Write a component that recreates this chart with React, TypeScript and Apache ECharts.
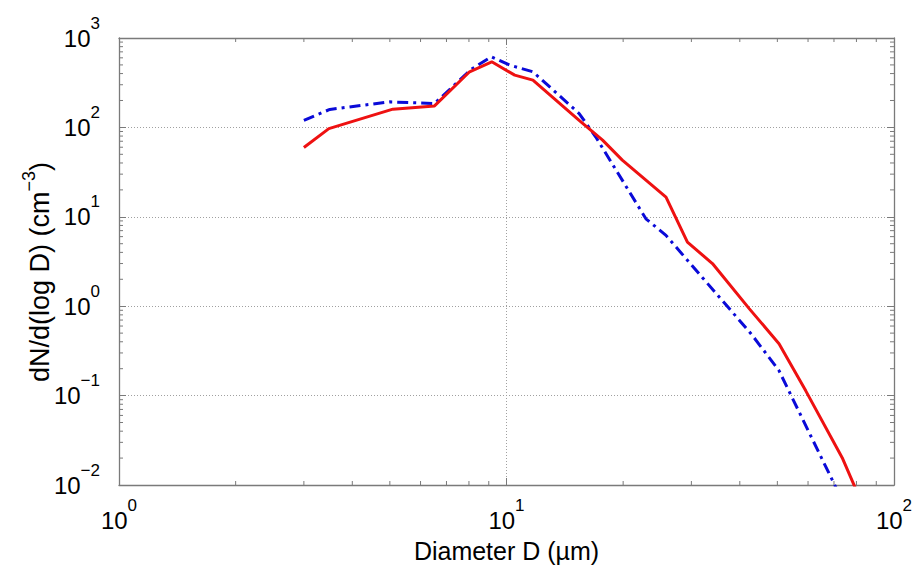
import React, { useEffect, useRef } from "react";
import * as echarts from "echarts";

// Particle number size distribution, two cases
const redDiameter = [3.0, 3.48, 5.09, 6.52, 8.03, 9.16, 10.5, 11.7, 15.4, 17.7, 19.9, 25.8, 29.3, 34.0, 42.3, 50.5, 59.2, 73.5, 82.2];
const redConc = [59.5, 97, 160, 174, 419, 542, 384, 338, 120, 72, 43, 16.6, 5.2, 3.0, 0.94, 0.38, 0.113, 0.0202, 0.0066];

const blueDiameter = [3.0, 3.5, 4.99, 5.97, 6.52, 8.11, 9.14, 10.2, 11.7, 15.4, 17.0, 22.9, 25.8, 32.0, 42.8, 50.5, 72.6];
const blueConc = [120, 159, 193, 188, 185, 446, 617, 497, 419, 143, 78, 9.5, 6.2, 2.1, 0.49, 0.19, 0.0075];

// Axis ranges (decades)
const xMin = 1;
const xMax = 100;
const yMin = 0.01;
const yMax = 1000;

// Minor tick values: 2..9 within each decade
const minorMultipliers = [2, 3, 4, 5, 6, 7, 8, 9];
const xDecades = [1, 10];
const yDecades = [0.01, 0.1, 1, 10, 100];

const xTitle = "Diameter D (\u00b5m)";
const yTitle = "{t|dN/d(log D) (cm}{s|\u22123}{t|)}";

const FONT = '"Liberation Sans", Arial, Helvetica, sans-serif';
const FRAME = "#7a7a7a";

const pairs = (xs: number[], ys: number[]) => xs.map((x, i) => [x, ys[i]]);

const superscript = (v: number) => {
  const e = Math.round(Math.log10(v));
  const s = e < 0 ? "\u2212" + Math.abs(e) : String(e);
  return `{b|10}{e|${s}}`;
};

const labelRich = {
  b: { fontSize: 24, lineHeight: 47, verticalAlign: "middle", color: "#000", fontFamily: FONT },
  e: { fontSize: 17, lineHeight: 17, verticalAlign: "top", color: "#000", fontFamily: FONT },
};

export default function App() {
  const ref = useRef<HTMLDivElement>(null);

  useEffect(() => {
    document.body.style.margin = "0";
    if (!ref.current) return;
    const chart = echarts.init(ref.current, undefined, { renderer: "svg" });

    const xMinor: number[][] = [];
    xDecades.forEach((d) => minorMultipliers.forEach((m) => xMinor.push([d * m, yMin])));
    const yMinor: number[][] = [];
    yDecades.forEach((d) => minorMultipliers.forEach((m) => yMinor.push([xMin, d * m])));

    const tickStyle = { stroke: FRAME, lineWidth: 1 };
    const minorLen = 4;

    const frameAxis = {
      axisLine: { show: true, onZero: false, lineStyle: { color: FRAME, width: 1.3 } },
      axisTick: { show: true, inside: true, length: 7, lineStyle: { color: FRAME } },
    };

    const option = {
      animation: false,
      backgroundColor: "#fff",
      grid: { left: 119, top: 38, right: 27, bottom: 84, containLabel: false },
      graphic: [
        {
          type: "text",
          x: 40,
          y: 272,
          rotation: Math.PI / 2,
          style: {
            text: yTitle,
            align: "center",
            verticalAlign: "middle",
            rich: {
              t: { fontSize: 27, lineHeight: 40, verticalAlign: "middle", fill: "#000", fontFamily: FONT },
              s: { fontSize: 18, lineHeight: 18, verticalAlign: "top", fill: "#000", fontFamily: FONT },
            },
          },
        },
      ],
      xAxis: [
        {
          type: "log",
          logBase: 10,
          min: xMin,
          max: xMax,
          name: xTitle,
          nameLocation: "middle",
          nameGap: 53,
          nameTextStyle: { fontSize: 25, color: "#000", fontFamily: FONT },
          ...frameAxis,
          axisLabel: { margin: 12, fontSize: 24, fontFamily: FONT, formatter: superscript, rich: labelRich },
          splitLine: { show: true, lineStyle: { color: "#a0a0a0", type: [1, 2], width: 1 } },
        },
        {
          type: "log",
          logBase: 10,
          min: xMin,
          max: xMax,
          position: "top",
          ...frameAxis,
          axisLabel: { show: false },
          splitLine: { show: false },
        },
      ],
      yAxis: [
        {
          type: "log",
          logBase: 10,
          min: yMin,
          max: yMax,
          ...frameAxis,
          axisLabel: { margin: 19, fontSize: 24, fontFamily: FONT, formatter: superscript, rich: labelRich },
          splitLine: { show: true, lineStyle: { color: "#a0a0a0", type: [1, 2], width: 1 } },
        },
        {
          type: "log",
          logBase: 10,
          min: yMin,
          max: yMax,
          position: "right",
          ...frameAxis,
          axisLabel: { show: false },
          splitLine: { show: false },
        },
      ],
      series: [
        {
          type: "line",
          data: pairs(blueDiameter, blueConc),
          showSymbol: false,
          lineStyle: { color: "#0a0ad8", width: 3, type: [11, 5, 3, 5] },
          z: 3,
        },
        {
          type: "line",
          data: pairs(redDiameter, redConc),
          showSymbol: false,
          lineStyle: { color: "#ee1111", width: 3 },
          z: 4,
        },
        {
          type: "custom",
          silent: true,
          clip: false,
          data: xMinor,
          renderItem: (_p: any, api: any) => {
            const v = api.value(0);
            const b = api.coord([v, yMin]);
            const t = api.coord([v, yMax]);
            return {
              type: "group",
              children: [
                { type: "line", shape: { x1: b[0], y1: b[1], x2: b[0], y2: b[1] - minorLen }, style: tickStyle },
                { type: "line", shape: { x1: t[0], y1: t[1], x2: t[0], y2: t[1] + minorLen }, style: tickStyle },
              ],
            };
          },
        },
        {
          type: "custom",
          silent: true,
          clip: false,
          data: yMinor,
          renderItem: (_p: any, api: any) => {
            const v = api.value(1);
            const l = api.coord([xMin, v]);
            const r = api.coord([xMax, v]);
            return {
              type: "group",
              children: [
                { type: "line", shape: { x1: l[0], y1: l[1], x2: l[0] + minorLen, y2: l[1] }, style: tickStyle },
                { type: "line", shape: { x1: r[0], y1: r[1], x2: r[0] - minorLen, y2: r[1] }, style: tickStyle },
              ],
            };
          },
        },
      ],
    };

    chart.setOption(option as any);
    return () => chart.dispose();
  }, []);

  return <div ref={ref} style={{ width: 921, height: 569 }} />;
}
